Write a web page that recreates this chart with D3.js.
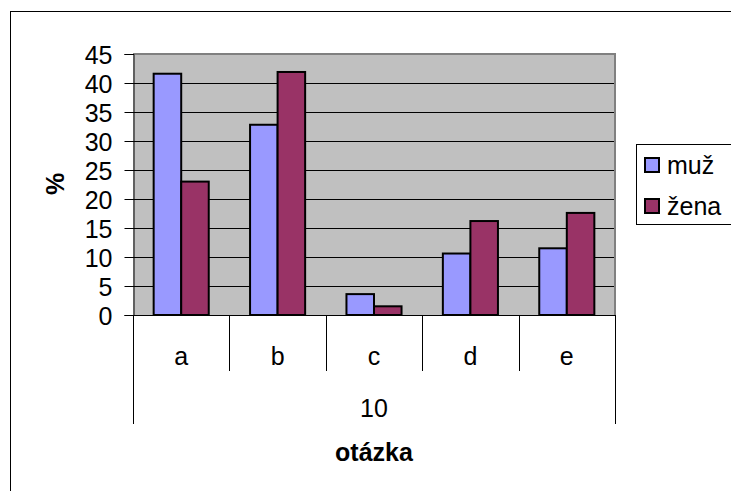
<!DOCTYPE html>
<html lang="cs">
<head>
  <meta charset="UTF-8">
  <title>otázka 10</title>
  <script src="https://cdn.jsdelivr.net/npm/d3@7/dist/d3.min.js"></script>
  <style>
    body{ margin:0; background:#fff; }
    svg text{ font-family: Arial, "Liberation Sans", sans-serif; fill:#000; }
  </style>
</head>
<body>
<div class="chart"></div>
<script>
const categories = ['a', 'b', 'c', 'd', 'e'];
const series = ['muž', 'žena'];
const muz = [41.6, 32.8, 3.6, 10.6, 11.5];
const zena = [23.0, 41.9, 1.5, 16.2, 17.6];
const yTicks = [0, 5, 10, 15, 20, 25, 30, 35, 40, 45];
const groupLabel = '10';

const colors = {'muž': '#9999ff', 'žena': '#993366'};
const values = {'muž': muz, 'žena': zena};

const W = 731, H = 491;
const fs = 25;
const plot = {left: 133, right: 615, top: 54, bottom: 315};

const svg = d3.select('.chart').append('svg').attr('width', W).attr('height', H);

// outer chart frame (runs off right/bottom)
svg.append('rect').attr('x', 10.5).attr('y', 11.5).attr('width', 800).attr('height', 600)
  .attr('fill', '#fff').attr('stroke', '#000').attr('stroke-width', 1);

const x0 = d3.scaleBand().domain(categories).range([plot.left, plot.right]);
const bw = x0.bandwidth();
const x1 = d3.scaleBand().domain(series).range([bw * 0.75 / 3.5, bw * 2.75 / 3.5]);
const y = d3.scaleLinear().domain([0, 45]).range([plot.bottom, plot.top]);

// plot area
svg.append('rect').attr('x', plot.left).attr('y', plot.top)
  .attr('width', plot.right - plot.left).attr('height', plot.bottom - plot.top)
  .attr('fill', '#c0c0c0');

// gridlines
svg.append('g').selectAll('line').data(yTicks.filter(t => t > 0 && t < 45)).join('line')
  .attr('x1', plot.left).attr('x2', plot.right)
  .attr('y1', d => Math.round(y(d)) + 0.5).attr('y2', d => Math.round(y(d)) + 0.5)
  .attr('stroke', '#000').attr('stroke-width', 1);

// plot border top/right (gray)
svg.append('path')
  .attr('d', `M${plot.left},${plot.top}H${plot.right}V${plot.bottom}`)
  .attr('fill', 'none').attr('stroke', '#808080').attr('stroke-width', 2);

// bars
const groups = svg.append('g').selectAll('g').data(categories).join('g')
  .attr('transform', d => `translate(${x0(d)},0)`);
groups.selectAll('rect').data((c, i) => series.map(s => ({s, v: values[s][i]}))).join('rect')
  .attr('x', d => x1(d.s)).attr('width', x1.bandwidth())
  .attr('y', d => y(d.v)).attr('height', d => y(0) - y(d.v))
  .attr('fill', d => colors[d.s]).attr('stroke', '#000').attr('stroke-width', 2);

// y axis
const yAxis = d3.axisLeft(y).tickValues(yTicks).tickSize(9).tickPadding(12).tickFormat(d3.format('d'));
const ya = svg.append('g').attr('transform', `translate(${plot.left + 0.5},0)`).call(yAxis);
ya.select('.domain').attr('stroke', '#000');
ya.selectAll('.tick line').attr('stroke', '#000');
ya.selectAll('text').attr('font-size', fs).attr('font-family', null).attr('dy', '0.36em');

// x axis line
svg.append('line').attr('x1', plot.left).attr('x2', plot.right)
  .attr('y1', plot.bottom + 0.5).attr('y2', plot.bottom + 0.5).attr('stroke', '#000');

// category separators
const bounds = categories.map(c => x0(c)).concat([plot.right]);
svg.append('g').selectAll('line').data(bounds).join('line')
  .attr('x1', d => Math.round(d) + 0.5).attr('x2', d => Math.round(d) + 0.5)
  .attr('y1', plot.bottom)
  .attr('y2', (d, i) => (i === 0 || i === bounds.length - 1) ? 424 : 371)
  .attr('stroke', '#000');

svg.append('g').selectAll('text').data(categories).join('text')
  .attr('x', d => x0(d) + bw / 2).attr('y', 365)
  .attr('text-anchor', 'middle').attr('font-size', fs).text(d => d);

svg.append('text').attr('x', (plot.left + plot.right) / 2).attr('y', 417)
  .attr('text-anchor', 'middle').attr('font-size', fs).text(groupLabel);

// axis titles
svg.append('text').attr('x', (plot.left + plot.right) / 2).attr('y', 461)
  .attr('text-anchor', 'middle').attr('font-size', fs).attr('font-weight', 'bold').text('otázka');
svg.append('text').attr('transform', 'translate(64,184) rotate(-90)')
  .attr('text-anchor', 'middle').attr('font-size', fs).attr('font-weight', 'bold').text('%');

// legend
const lg = svg.append('g');
lg.append('rect').attr('x', 636.5).attr('y', 144.5).attr('width', 120).attr('height', 80)
  .attr('fill', '#fff').attr('stroke', '#000');
const items = lg.selectAll('g').data(series).join('g')
  .attr('transform', (d, i) => `translate(645,${165 + i * 41})`);
items.append('rect').attr('x', 0).attr('y', -7).attr('width', 14).attr('height', 14)
  .attr('fill', d => colors[d]).attr('stroke', '#000').attr('stroke-width', 2);
items.append('text').attr('x', 22).attr('y', 9).attr('font-size', fs).text(d => d);
</script>
</body>
</html>
